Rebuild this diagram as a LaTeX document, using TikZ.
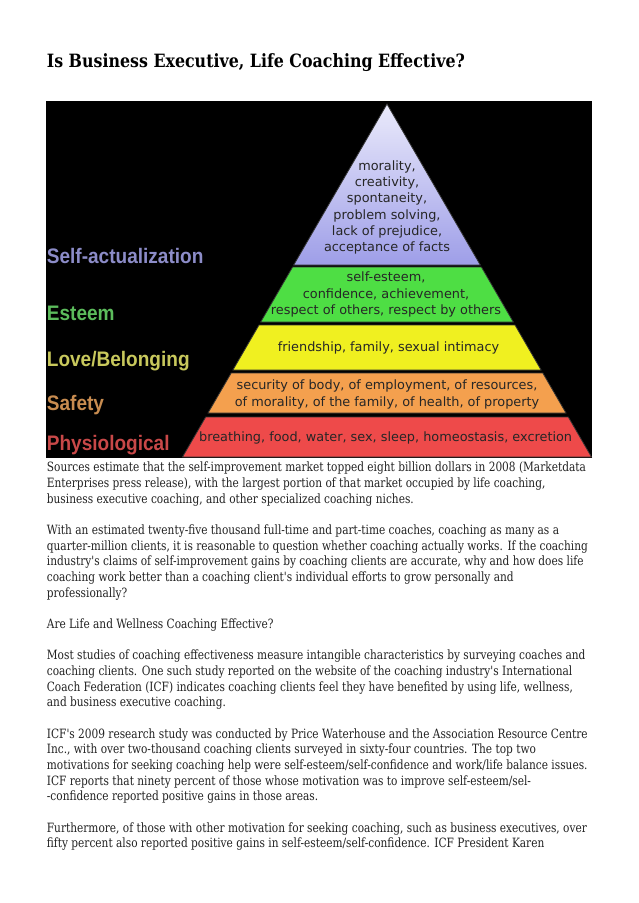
\documentclass[tikz,border=0pt]{standalone}
\usepackage{fontspec}
\usepackage{graphicx}
\newfontfamily\bodyfont{DejaVu Serif}
\newfontfamily\pyrfont{DejaVu Sans}
\newfontfamily\labfont{Liberation Sans}
\newlength\mylen
\definecolor{purpA}{HTML}{EAEAFB}
\definecolor{purpB}{HTML}{9E9EE8}
\definecolor{greenE}{HTML}{4EDE44}
\definecolor{greenM}{HTML}{98F882}
\definecolor{yelE}{HTML}{F0F020}
\definecolor{yelM}{HTML}{FFFF86}
\definecolor{oraE}{HTML}{F4A04E}
\definecolor{oraM}{HTML}{FFC888}
\definecolor{redE}{HTML}{EE4A4A}
\definecolor{redM}{HTML}{FF8484}
\definecolor{labP}{HTML}{8C8CC8}
\definecolor{labG}{HTML}{5CBC5C}
\definecolor{labY}{HTML}{C8C85C}
\definecolor{labO}{HTML}{C88C50}
\definecolor{labR}{HTML}{C84848}
\definecolor{bodyc}{HTML}{222222}
\begin{document}%
\settowidth\mylen{\bodyfont\fontsize{12.8pt}{15pt}\selectfont Sources estimate that the self-improvement market topped eight billion dollars in 2008 (Marketdata}%
\pgfmathsetmacro\bsx{539/\mylen}%
\settowidth\mylen{\bodyfont\bfseries\fontsize{18.3pt}{22pt}\selectfont Is Business Executive, Life Coaching Effective?}%
\pgfmathsetmacro\tsx{418/\mylen}%
\settowidth\mylen{\pyrfont\fontsize{12.5pt}{16pt}\selectfont breathing, food, water, sex, sleep, homeostasis, excretion}%
\pgfmathsetmacro\pyrsize{12.5*373/\mylen}%
\settowidth\mylen{\labfont\bfseries\fontsize{21pt}{24pt}\selectfont Self-actualization}%
\pgfmathsetmacro\lsx{156.5/\mylen}%
\begin{tikzpicture}[x=1pt,y=-1pt]
\fill[white] (0,0) rectangle (638,903);
\useasboundingbox (0,0) rectangle (638,903);
\tikzset{
  bodytxt/.style={anchor=base west, inner sep=0pt, text=bodyc, font=\bodyfont\fontsize{12.8pt}{15pt}\selectfont},
  titletxt/.style={anchor=base west, inner sep=0pt, text=black, font=\bodyfont\bfseries\fontsize{18.3pt}{22pt}\selectfont},
  pyrtxt/.style={align=center, inner sep=0pt, text=black!85, font=\pyrfont\fontsize{\pyrsize pt}{16.2pt}\selectfont},
  labtxt/.style={anchor=base west, inner sep=0pt, font=\labfont\bfseries\fontsize{21pt}{24pt}\selectfont},
  tier/.style={draw=black!80, line width=0.8pt}
}
% title
\node[titletxt] (title) at (46.7,67.3) {\scalebox{\tsx}[1]{Is Business Executive, Life Coaching Effective?}};
% black panel
\fill[black] (46,101) rectangle (592,458);
% pyramid tiers
\path[tier, top color=purpA, bottom color=purpB] (387,104) -- (480.3,265) -- (293.7,265) -- cycle;
\path[tier, left color=greenE, middle color=greenM, right color=greenE] (292.6,267) -- (481.4,267) -- (513.3,322) -- (260.7,322) -- cycle;
\path[tier, left color=yelE, middle color=yelM, right color=yelE] (259,325) -- (515,325) -- (541.1,370) -- (232.9,370) -- cycle;
\path[tier, left color=oraE, middle color=oraM, right color=oraE] (231.2,373) -- (542.8,373) -- (566,413) -- (208,413) -- cycle;
\path[tier, left color=redE, middle color=redM, right color=redE] (205.7,417) -- (568.3,417) -- (591.5,457) -- (182.5,457) -- cycle;
% pyramid texts
\node[pyrtxt] (t1) at (387,207.5) {morality,\\creativity,\\spontaneity,\\problem solving,\\lack of prejudice,\\acceptance of facts};
\node[pyrtxt] (t2) at (386,294.5) {self-esteem,\\confidence, achievement,\\respect of others, respect by others};
\node[pyrtxt] (t3) at (388.5,348) {friendship, family, sexual intimacy};
\node[pyrtxt] (t4) at (387,394.5) {security of body, of employment, of resources,\\of morality, of the family, of health, of property};
\node[pyrtxt] (t5) at (385.6,438) {breathing, food, water, sex, sleep, homeostasis, excretion};
% side labels
\node[labtxt, text=labP] (s1) at (46.7,263.3) {\scalebox{\lsx}[1]{Self-actualization}};
\node[labtxt, text=labG] (s2) at (46.7,320.3) {\scalebox{\lsx}[1]{Esteem}};
\node[labtxt, text=labY] (s3) at (46.7,366.3) {\scalebox{\lsx}[1]{Love/Belonging}};
\node[labtxt, text=labO] (s4) at (46.7,410.3) {\scalebox{\lsx}[1]{Safety}};
\node[labtxt, text=labR] (s5) at (46.7,450.3) {\scalebox{\lsx}[1]{Physiological}};
% body text
\node[bodytxt] (l1) at (46.7,471.7) {\scalebox{\bsx}[1]{Sources estimate that the self-improvement market topped eight billion dollars in 2008 (Marketdata}};
\node[bodytxt] (l2) at (46.7,487.4) {\scalebox{\bsx}[1]{Enterprises press release), with the largest portion of that market occupied by life coaching,}};
\node[bodytxt] (l3) at (46.7,503.0) {\scalebox{\bsx}[1]{business executive coaching, and other specialized coaching niches.}};
\node[bodytxt] (l5) at (46.7,534.4) {\scalebox{\bsx}[1]{With an estimated twenty-five thousand full-time and part-time coaches, coaching as many as a}};
\node[bodytxt] (l6) at (46.7,550.0) {\scalebox{\bsx}[1]{quarter-million clients, it is reasonable to question whether coaching actually works. If the coaching}};
\node[bodytxt] (l7) at (46.7,565.7) {\scalebox{\bsx}[1]{industry's claims of self-improvement gains by coaching clients are accurate, why and how does life}};
\node[bodytxt] (l8) at (46.7,581.4) {\scalebox{\bsx}[1]{coaching work better than a coaching client's individual efforts to grow personally and}};
\node[bodytxt] (l9) at (46.7,597.1) {\scalebox{\bsx}[1]{professionally?}};
\node[bodytxt] (l11) at (46.7,628.4) {\scalebox{\bsx}[1]{Are Life and Wellness Coaching Effective?}};
\node[bodytxt] (l13) at (46.7,659.7) {\scalebox{\bsx}[1]{Most studies of coaching effectiveness measure intangible characteristics by surveying coaches and}};
\node[bodytxt] (l14) at (46.7,675.4) {\scalebox{\bsx}[1]{coaching clients. One such study reported on the website of the coaching industry's International}};
\node[bodytxt] (l15) at (46.7,691.1) {\scalebox{\bsx}[1]{Coach Federation (ICF) indicates coaching clients feel they have benefited by using life, wellness,}};
\node[bodytxt] (l16) at (46.7,706.8) {\scalebox{\bsx}[1]{and business executive coaching.}};
\node[bodytxt] (l18) at (46.7,738.1) {\scalebox{\bsx}[1]{ICF's 2009 research study was conducted by Price Waterhouse and the Association Resource Centre}};
\node[bodytxt] (l19) at (46.7,753.8) {\scalebox{\bsx}[1]{Inc., with over two-thousand coaching clients surveyed in sixty-four countries. The top two}};
\node[bodytxt] (l20) at (46.7,769.5) {\scalebox{\bsx}[1]{motivations for seeking coaching help were self-esteem/self-confidence and work/life balance issues.}};
\node[bodytxt] (l21) at (46.7,785.1) {\scalebox{\bsx}[1]{ICF reports that ninety percent of those whose motivation was to improve self-esteem/sel-}};
\node[bodytxt] (l22) at (46.7,800.8) {\scalebox{\bsx}[1]{-confidence reported positive gains in those areas.}};
\node[bodytxt] (l24) at (46.7,832.2) {\scalebox{\bsx}[1]{Furthermore, of those with other motivation for seeking coaching, such as business executives, over}};
\node[bodytxt] (l25) at (46.7,847.8) {\scalebox{\bsx}[1]{fifty percent also reported positive gains in self-esteem/self-confidence. ICF President Karen}};
\end{tikzpicture}
\end{document}
